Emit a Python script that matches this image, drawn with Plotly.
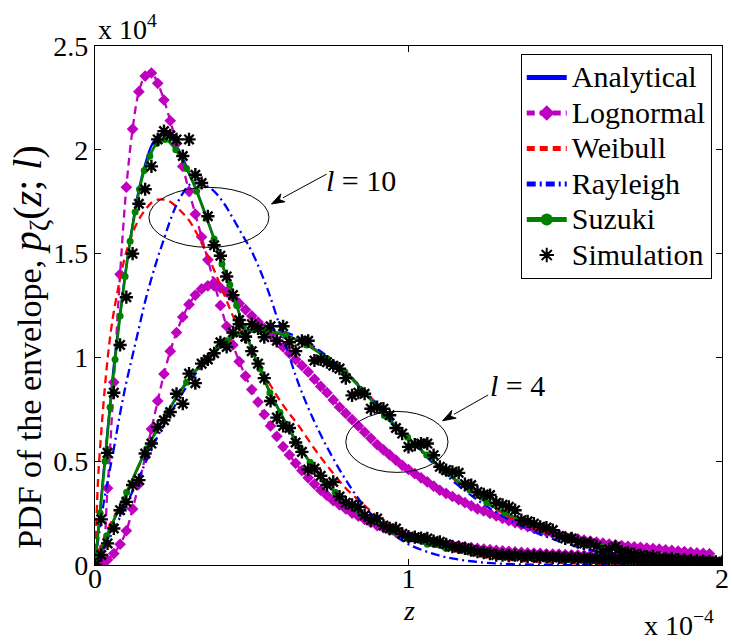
import math
import plotly.graph_objects as go

# ---------------------------------------------------------------------------
# Envelope PDFs p_zeta(z; l), z in units of 1e-4, PDF in units of 1e4
# ---------------------------------------------------------------------------
Z_LINE = [0, 0.01, 0.02, 0.03, 0.04, 0.05, 0.06, 0.08, 0.10, 0.12,
          0.14, 0.16, 0.18, 0.20, 0.22, 0.24, 0.26, 0.28, 0.30, 0.32,
          0.35, 0.38, 0.41, 0.44, 0.47, 0.50, 0.55, 0.60, 0.65, 0.70,
          0.75, 0.80, 0.85, 0.90, 0.95, 1.00, 1.10, 1.20, 1.30, 1.40,
          1.50, 1.60, 1.70, 1.80, 1.90, 2.00]

ANALYTICAL_L10 = [0, 0.16, 0.33, 0.49, 0.65, 0.80, 0.96, 1.21, 1.44, 1.64,
                  1.81, 1.93, 2.02, 2.065, 2.08, 2.065, 2.02, 1.96, 1.89, 1.82,
                  1.70, 1.57, 1.43, 1.30, 1.17, 1.04, 0.86, 0.71, 0.57, 0.47,
                  0.375, 0.305, 0.25, 0.205, 0.16, 0.125, 0.085, 0.06, 0.04, 0.03,
                  0.023, 0.018, 0.014, 0.011, 0.009, 0.007]
ANALYTICAL_L4 = [0, 0.035, 0.07, 0.11, 0.145, 0.18, 0.215, 0.28, 0.345, 0.41,
                 0.48, 0.545, 0.605, 0.66, 0.71, 0.76, 0.81, 0.855, 0.895, 0.935,
                 0.985, 1.035, 1.07, 1.10, 1.12, 1.13, 1.13, 1.11, 1.08, 1.04,
                 0.985, 0.925, 0.85, 0.765, 0.685, 0.61, 0.47, 0.355, 0.255, 0.19,
                 0.14, 0.097, 0.063, 0.038, 0.022, 0.012]
WEIBULL_L10 = [0, 0.42, 0.64, 0.83, 0.99, 1.12, 1.22, 1.38, 1.51, 1.60,
               1.665, 1.71, 1.745, 1.76, 1.76, 1.75, 1.725, 1.695, 1.66, 1.61,
               1.52, 1.42, 1.31, 1.20, 1.11, 1.02, 0.89, 0.77, 0.67, 0.56,
               0.46, 0.37, 0.30, 0.235, 0.185, 0.145, 0.085, 0.05, 0.028, 0.016,
               0.009, 0.005, 0.003, 0.002, 0.001, 0.0]
WEIBULL_L4 = [0, 0.06, 0.10, 0.135, 0.17, 0.20, 0.23, 0.29, 0.35, 0.41,
              0.475, 0.54, 0.60, 0.655, 0.705, 0.755, 0.805, 0.85, 0.89, 0.93,
              0.98, 1.03, 1.065, 1.095, 1.115, 1.125, 1.125, 1.11, 1.08, 1.04,
              0.99, 0.93, 0.855, 0.775, 0.695, 0.615, 0.47, 0.35, 0.25, 0.18,
              0.125, 0.085, 0.055, 0.035, 0.02, 0.012]
RAYLEIGH_L10 = [0, 0.12, 0.22, 0.32, 0.40, 0.48, 0.56, 0.73, 0.88, 1.01,
                1.14, 1.27, 1.38, 1.48, 1.57, 1.66, 1.735, 1.79, 1.83, 1.84,
                1.83, 1.80, 1.745, 1.67, 1.59, 1.51, 1.33, 1.10, 0.87, 0.69,
                0.54, 0.41, 0.30, 0.215, 0.15, 0.10, 0.045, 0.018, 0.006, 0.002,
                0, 0, 0, 0, 0, 0]
RAYLEIGH_L4 = [0, 0.025, 0.05, 0.08, 0.11, 0.14, 0.17, 0.23, 0.29, 0.355,
               0.42, 0.49, 0.555, 0.62, 0.675, 0.73, 0.78, 0.83, 0.875, 0.92,
               0.975, 1.03, 1.07, 1.10, 1.125, 1.135, 1.14, 1.125, 1.095, 1.05,
               0.995, 0.93, 0.855, 0.775, 0.69, 0.61, 0.46, 0.335, 0.235, 0.16,
               0.105, 0.065, 0.04, 0.022, 0.012, 0.006]

# Lognormal approximation, sampled every 0.02
Z_LGN = [0.00, 0.02, 0.04, 0.06, 0.08, 0.10, 0.12, 0.14, 0.16, 0.18,
         0.20, 0.22, 0.24, 0.26, 0.28, 0.30, 0.32, 0.34, 0.36, 0.38,
         0.40, 0.42, 0.44, 0.46, 0.48, 0.50, 0.52, 0.54, 0.56, 0.58,
         0.60, 0.62, 0.64, 0.66, 0.68, 0.70, 0.72, 0.74, 0.76, 0.78,
         0.80, 0.82, 0.84, 0.86, 0.88, 0.90, 0.92, 0.94, 0.96, 0.98,
         1.00, 1.02, 1.04, 1.06, 1.08, 1.10, 1.12, 1.14, 1.16, 1.18,
         1.20, 1.22, 1.24, 1.26, 1.28, 1.30, 1.32, 1.34, 1.36, 1.38,
         1.40, 1.42, 1.44, 1.46, 1.48, 1.50, 1.52, 1.54, 1.56, 1.58,
         1.60, 1.62, 1.64, 1.66, 1.68, 1.70, 1.72, 1.74, 1.76, 1.78,
         1.80, 1.82, 1.84, 1.86, 1.88, 1.90, 1.92, 1.94, 1.96]
LOGNORMAL_L10 = [0.0, 0.03, 0.37, 0.88, 1.40, 1.82, 2.10, 2.28, 2.355, 2.37,
                 2.32, 2.24, 2.14, 2.03, 1.92, 1.80, 1.69, 1.58, 1.47, 1.36,
                 1.25, 1.15, 1.06, 0.98, 0.91, 0.845, 0.785, 0.725, 0.67, 0.62,
                 0.57, 0.53, 0.49, 0.455, 0.42, 0.39, 0.36, 0.335, 0.31, 0.29,
                 0.27, 0.25, 0.235, 0.22, 0.205, 0.19, 0.18, 0.168, 0.158, 0.148,
                 0.14, 0.132, 0.125, 0.118, 0.112, 0.106, 0.101, 0.096, 0.092, 0.088,
                 0.084, 0.08, 0.077, 0.074, 0.071, 0.068, 0.066, 0.063, 0.061, 0.059,
                 0.057, 0.056, 0.054, 0.053, 0.052, 0.05, 0.049, 0.048, 0.047, 0.046,
                 0.045, 0.044, 0.043, 0.042, 0.041, 0.04, 0.039, 0.038, 0.037, 0.036,
                 0.035, 0.034, 0.034, 0.033, 0.032, 0.031, 0.031, 0.03, 0.029]
LOGNORMAL_L4 = [0.0, 0.005, 0.025, 0.055, 0.10, 0.165, 0.27, 0.39, 0.52, 0.655,
                0.79, 0.92, 1.03, 1.12, 1.195, 1.255, 1.30, 1.33, 1.345, 1.345,
                1.335, 1.315, 1.29, 1.26, 1.23, 1.20, 1.17, 1.14, 1.11, 1.08,
                1.05, 1.02, 0.99, 0.96, 0.93, 0.895, 0.86, 0.83, 0.795, 0.76,
                0.73, 0.70, 0.67, 0.64, 0.61, 0.58, 0.555, 0.53, 0.505, 0.48,
                0.46, 0.44, 0.42, 0.40, 0.38, 0.36, 0.345, 0.33, 0.315, 0.30,
                0.285, 0.27, 0.26, 0.248, 0.236, 0.225, 0.214, 0.204, 0.194, 0.185,
                0.176, 0.168, 0.16, 0.152, 0.145, 0.138, 0.132, 0.126, 0.12, 0.115,
                0.11, 0.105, 0.101, 0.097, 0.094, 0.09, 0.088, 0.085, 0.082, 0.079,
                0.076, 0.073, 0.07, 0.067, 0.064, 0.061, 0.058, 0.056, 0.054]

# Suzuki model (line with dot markers)
Z_SUZUKI_L10 = [0, 0.016, 0.032, 0.048, 0.064, 0.08, 0.096, 0.112, 0.128, 0.142,
                0.157, 0.175, 0.197, 0.223, 0.258, 0.292, 0.324, 0.356, 0.38, 0.405,
                0.43, 0.452, 0.473, 0.50, 0.526, 0.558, 0.59, 0.622, 0.654, 0.686,
                0.734, 0.766, 0.80, 0.84, 0.89, 0.95, 1.00, 1.06, 1.12, 1.20,
                1.30, 1.40, 1.50, 1.60, 1.70, 1.80, 1.90, 2.00]
SUZUKI_L10 = [0, 0.25, 0.50, 0.76, 0.99, 1.20, 1.39, 1.56, 1.70, 1.81,
              1.90, 1.97, 2.03, 2.05, 2.00, 1.91, 1.80, 1.67, 1.57, 1.45,
              1.35, 1.25, 1.15, 1.04, 0.945, 0.83, 0.735, 0.65, 0.565, 0.495,
              0.40, 0.35, 0.30, 0.26, 0.21, 0.16, 0.125, 0.10, 0.08, 0.06,
              0.042, 0.031, 0.024, 0.018, 0.014, 0.011, 0.009, 0.007]
Z_SUZUKI_L4 = [0, 0.037, 0.101, 0.165, 0.231, 0.292, 0.356, 0.42, 0.48, 0.545,
               0.61, 0.675, 0.74, 0.797, 0.86, 0.923, 0.997, 1.058, 1.116, 1.196,
               1.25, 1.308, 1.37, 1.43, 1.50, 1.56, 1.62, 1.68, 1.75, 1.82,
               1.90, 2.00]
SUZUKI_L4 = [0, 0.14, 0.35, 0.56, 0.735, 0.88, 0.995, 1.08, 1.12, 1.125,
             1.105, 1.06, 0.995, 0.93, 0.83, 0.72, 0.615, 0.53, 0.45, 0.36,
             0.30, 0.25, 0.21, 0.175, 0.14, 0.11, 0.088, 0.068, 0.05, 0.035,
             0.022, 0.012]

# Monte-Carlo histogram estimates, bins every 0.02
Z_SIM = [0.00, 0.02, 0.04, 0.06, 0.08, 0.10, 0.12, 0.14, 0.16, 0.18,
         0.20, 0.22, 0.24, 0.26, 0.28, 0.30, 0.32, 0.34, 0.36, 0.38,
         0.40, 0.42, 0.44, 0.46, 0.48, 0.50, 0.52, 0.54, 0.56, 0.58,
         0.60, 0.62, 0.64, 0.66, 0.68, 0.70, 0.72, 0.74, 0.76, 0.78,
         0.80, 0.82, 0.84, 0.86, 0.88, 0.90, 0.92, 0.94, 0.96, 0.98,
         1.00, 1.02, 1.04, 1.06, 1.08, 1.10, 1.12, 1.14, 1.16, 1.18,
         1.20, 1.22, 1.24, 1.26, 1.28, 1.30, 1.32, 1.34, 1.36, 1.38,
         1.40, 1.42, 1.44, 1.46, 1.48, 1.50, 1.52, 1.54, 1.56, 1.58,
         1.60, 1.62, 1.64, 1.66, 1.68, 1.70, 1.72, 1.74, 1.76, 1.78,
         1.80, 1.82, 1.84, 1.86, 1.88, 1.90, 1.92, 1.94, 1.96, 1.98,
         2.00]
SIM_L10 = [0.0, 0.22, 0.54, 0.83, 1.06, 1.29, 1.50, 1.74, 1.81, 1.92,
           2.05, 2.09, 2.07, 2.05, 1.97, 2.05, 1.88, 1.84, 1.68, 1.54,
           1.49, 1.39, 1.30, 1.18, 1.10, 1.03, 0.97, 0.90, 0.79, 0.71,
           0.67, 0.66, 0.59, 0.545, 0.46, 0.465, 0.43, 0.385, 0.40, 0.33,
           0.30, 0.29, 0.28, 0.24, 0.216, 0.224, 0.19, 0.176, 0.176, 0.15,
           0.136, 0.134, 0.13, 0.128, 0.115, 0.112, 0.10, 0.088, 0.085, 0.08,
           0.072, 0.064, 0.06, 0.055, 0.048, 0.048, 0.045, 0.047, 0.042, 0.04,
           0.043, 0.038, 0.04, 0.036, 0.037, 0.034, 0.036, 0.032, 0.033, 0.03,
           0.031, 0.028, 0.029, 0.026, 0.027, 0.024, 0.025, 0.022, 0.023, 0.02,
           0.021, 0.019, 0.018, 0.019, 0.016, 0.017, 0.015, 0.014, 0.015, 0.013,
           0.012]
SIM_L4 = [0.0, 0.048, 0.104, 0.176, 0.264, 0.304, 0.385, 0.409, 0.537, 0.585,
          0.665, 0.697, 0.737, 0.825, 0.777, 0.922, 0.876, 0.97, 0.99, 1.02,
          1.073, 1.05, 1.12, 1.16, 1.10, 1.16, 1.14, 1.097, 1.15, 1.08,
          1.15, 1.073, 1.03, 1.08, 1.08, 0.985, 0.99, 0.977, 0.96, 0.946,
          0.90, 0.817, 0.83, 0.825, 0.753, 0.76, 0.753, 0.721, 0.66, 0.633,
          0.569, 0.58, 0.585, 0.585, 0.529, 0.473, 0.457, 0.449, 0.444, 0.39,
          0.385, 0.352, 0.34, 0.337, 0.30, 0.29, 0.28, 0.264, 0.216, 0.21,
          0.20, 0.184, 0.18, 0.168, 0.14, 0.128, 0.128, 0.11, 0.104, 0.104,
          0.09, 0.064, 0.075, 0.088, 0.064, 0.06, 0.052, 0.048, 0.04, 0.042,
          0.035, 0.03, 0.032, 0.026, 0.025, 0.022, 0.02, 0.018, 0.017, 0.015,
          0.014]

X_TICKS = [0, 1, 2]
Y_TICKS = [0, 0.5, 1, 1.5, 2, 2.5]
Y_TICK_TEXT = ["0", "0.5", "1", "1.5", "2", "2.5"]

BLUE = "#0000FF"
MAGENTA = "#BF00BF"
RED = "#FF0000"
GREEN = "#008000"
BLACK = "#000000"
SERIF = "Liberation Serif, Times New Roman, Times, serif"

W, H = 732, 642
MARGIN = dict(l=95, r=10, t=46, b=77)
X_RANGE = [0, 2]
Y_RANGE = [0, 2.5]
# pixels per data unit, used to keep arrowheads undistorted
PX_X = (W - MARGIN["l"] - MARGIN["r"]) / (X_RANGE[1] - X_RANGE[0])
PX_Y = (H - MARGIN["t"] - MARGIN["b"]) / (Y_RANGE[1] - Y_RANGE[0])

fig = go.Figure()


def legend_label(text):
    # legend rows are spaced by the legend font; the label itself is larger
    return f"<span style='font-size:30px'>{text}</span>"


def add_pair(name, xs10, ys10, xs4, ys4, line, marker=None, mode="lines", rank=1):
    for i, (xs, ys) in enumerate(((xs10, ys10), (xs4, ys4))):
        fig.add_trace(go.Scatter(
            x=xs, y=ys, mode=mode, name=legend_label(name),
            showlegend=(i == 0), legendrank=rank,
            line=line, marker=marker or {},
        ))


add_pair("Analytical", Z_LINE, ANALYTICAL_L10, Z_LINE, ANALYTICAL_L4,
         dict(color=BLUE, width=2.3, shape="spline"), rank=1)
add_pair("Lognormal", Z_LGN, LOGNORMAL_L10, Z_LGN, LOGNORMAL_L4,
         dict(color=MAGENTA, width=2.3, dash="8px,5px", shape="spline"),
         marker=dict(symbol="diamond", size=9, color=MAGENTA),
         mode="lines+markers", rank=2)
add_pair("Weibull", Z_LINE, WEIBULL_L10, Z_LINE, WEIBULL_L4,
         dict(color=RED, width=2.3, dash="8px,5px", shape="spline"), rank=3)
add_pair("Rayleigh", Z_LINE, RAYLEIGH_L10, Z_LINE, RAYLEIGH_L4,
         dict(color=BLUE, width=2.3, dash="9px,4px,2px,4px", shape="spline"), rank=4)
add_pair("Suzuki", Z_SUZUKI_L10, SUZUKI_L10, Z_SUZUKI_L4, SUZUKI_L4,
         dict(color=GREEN, width=2.7, shape="spline"),
         marker=dict(symbol="circle", size=7, color=GREEN),
         mode="lines+markers", rank=5)
add_pair("Simulation", Z_SIM, SIM_L10, Z_SIM, SIM_L4,
         dict(color=BLACK, width=0),
         marker=dict(symbol="asterisk-open", size=11,
                     line=dict(color=BLACK, width=2.4)),
         mode="markers", rank=6)

axis_common = dict(
    showline=True, linecolor=BLACK, linewidth=1.2, mirror="ticks",
    ticks="inside", ticklen=6, tickwidth=1, tickcolor=BLACK,
    showgrid=False, zeroline=False, automargin=False,
    tickfont=dict(family=SERIF, size=28, color=BLACK),
)

fig.update_layout(
    width=W, height=H, autosize=False,
    margin=dict(**MARGIN, autoexpand=False),
    paper_bgcolor="white", plot_bgcolor="white",
    font=dict(family=SERIF, size=28, color=BLACK),
    xaxis=dict(range=X_RANGE, tickvals=X_TICKS, ticktext=[str(t) for t in X_TICKS],
               ticklabelstandoff=-12, **axis_common),
    yaxis=dict(range=Y_RANGE, tickvals=Y_TICKS, ticktext=Y_TICK_TEXT,
               **axis_common),
    legend=dict(x=0.679, y=0.985, xanchor="left", yanchor="top",
                bgcolor="white", bordercolor=BLACK, borderwidth=1,
                font=dict(family=SERIF, size=25, color=BLACK),
                tracegroupgap=0, itemsizing="constant", itemwidth=40),
    showlegend=True,
)

# Ellipses grouping the curves of each fading parameter
fig.add_shape(type="circle", xref="x", yref="y", x0=0.172, x1=0.555,
              y0=1.530, y1=1.819, line=dict(color=BLACK, width=1))
fig.add_shape(type="circle", xref="x", yref="y", x0=0.80, x1=1.126,
              y0=0.446, y1=0.740, line=dict(color=BLACK, width=1))


def add_arrow(tail, head, head_len=13, head_half=4.5):
    """Straight arrow from tail to head (data coords) with a filled head."""
    tx, ty = tail
    hx, hy = head
    dx, dy = (hx - tx) * PX_X, (hy - ty) * PX_Y
    norm = math.hypot(dx, dy)
    ux, uy = dx / norm, dy / norm
    bx, by = hx - ux * head_len / PX_X, hy - uy * head_len / PX_Y
    px, py = -uy * head_half, ux * head_half
    fig.add_shape(type="line", xref="x", yref="y", x0=tx, y0=ty, x1=bx, y1=by,
                  line=dict(color=BLACK, width=1))
    path = (f"M {hx},{hy} L {bx + px / PX_X},{by + py / PX_Y} "
            f"L {hx - ux * 0.7 * head_len / PX_X},{hy - uy * 0.7 * head_len / PX_Y} "
            f"L {bx - px / PX_X},{by - py / PX_Y} Z")
    fig.add_shape(type="path", xref="x", yref="y", path=path,
                  fillcolor=BLACK, line=dict(color=BLACK, width=1))


add_arrow((0.739, 1.883), (0.563, 1.739))
add_arrow((1.254, 0.819), (1.109, 0.695))

fig.add_annotation(x=0.848, y=1.85, xref="x", yref="y", showarrow=False,
                   xanchor="center", yanchor="middle",
                   text="<i>l</i> = 10", font=dict(family=SERIF, size=30))
fig.add_annotation(x=1.349, y=0.867, xref="x", yref="y", showarrow=False,
                   xanchor="center", yanchor="middle",
                   text="<i>l</i> = 4", font=dict(family=SERIF, size=30))

# Axis titles and exponent labels
fig.add_annotation(x=0.5, y=-0.088, xref="paper", yref="paper", showarrow=False,
                   xanchor="center", yanchor="middle",
                   text="<i>z</i>", font=dict(family=SERIF, size=28))
fig.add_annotation(x=-0.104, y=0.42, xref="paper", yref="paper", showarrow=False,
                   xanchor="center", yanchor="middle", textangle=-90,
                   text=("PDF of the envelope, "
                         "<span style='font-size:40px'><i>p</i><sub>ζ</sub>"
                         "(<i>z</i>; <i>l</i>)</span>"),
                   font=dict(family=SERIF, size=34))
fig.add_annotation(x=0.002, y=1.035, xref="paper", yref="paper", showarrow=False,
                   xanchor="left", yanchor="middle",
                   text="x 10<sup>4</sup>", font=dict(family=SERIF, size=28))
fig.add_annotation(x=0.99, y=-0.113, xref="paper", yref="paper", showarrow=False,
                   xanchor="right", yanchor="middle",
                   text="x 10<sup>−4</sup>", font=dict(family=SERIF, size=28))

fig.write_html("out.html")
